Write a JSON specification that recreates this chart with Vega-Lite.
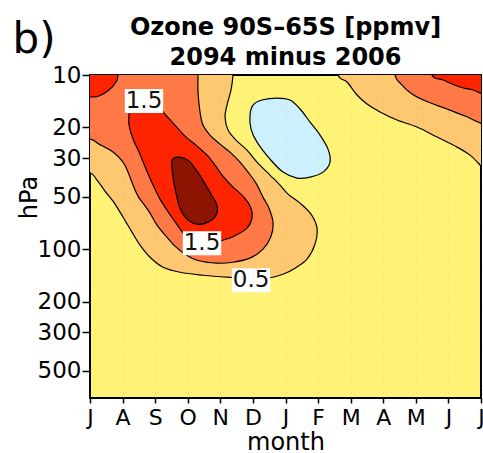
{
  "$schema": "https://vega.github.io/schema/vega-lite/v6.json",
  "width": 391,
  "height": 323,
  "autosize": {"type": "none"},
  "padding": {"left": 90, "top": 75, "right": 2, "bottom": 55},
  "background": "#ffffff",
  "config": {
    "font": "DejaVu Sans",
    "view": {"fill": "#fff377", "stroke": "#000000", "strokeWidth": 2}
  },
  "title": {
    "text": ["Ozone 90S–65S [ppmv]", "2094 minus 2006"],
    "fontSize": 24,
    "fontWeight": "bold",
    "lineHeight": 30,
    "anchor": "middle",
    "frame": "group",
    "offset": -52,
    "color": "#000000"
  },
  "datasets": {
    "contours": [
      {"shape": "left05", "level": 0.5, "k": 0, "month": -0.92, "p": 7},
      {"shape": "left05", "level": 0.5, "k": 1, "month": -0.92, "p": 32.9},
      {"shape": "left05", "level": 0.5, "k": 2, "month": -0.031, "p": 36.1},
      {"shape": "left05", "level": 0.5, "k": 3, "month": 0.215, "p": 40.13},
      {"shape": "left05", "level": 0.5, "k": 4, "month": 0.46, "p": 46.42},
      {"shape": "left05", "level": 0.5, "k": 5, "month": 0.706, "p": 52.99},
      {"shape": "left05", "level": 0.5, "k": 6, "month": 0.921, "p": 61.3},
      {"shape": "left05", "level": 0.5, "k": 7, "month": 1.105, "p": 69.96},
      {"shape": "left05", "level": 0.5, "k": 8, "month": 1.289, "p": 79.87},
      {"shape": "left05", "level": 0.5, "k": 9, "month": 1.535, "p": 94.85},
      {"shape": "left05", "level": 0.5, "k": 10, "month": 1.842, "p": 111.2},
      {"shape": "left05", "level": 0.5, "k": 11, "month": 2.241, "p": 126.9},
      {"shape": "left05", "level": 0.5, "k": 12, "month": 2.762, "p": 135.6},
      {"shape": "left05", "level": 0.5, "k": 13, "month": 3.468, "p": 141.1},
      {"shape": "left05", "level": 0.5, "k": 14, "month": 4.205, "p": 144.8},
      {"shape": "left05", "level": 0.5, "k": 15, "month": 4.911, "p": 148.8},
      {"shape": "left05", "level": 0.5, "k": 16, "month": 5.463, "p": 146.8},
      {"shape": "left05", "level": 0.5, "k": 17, "month": 5.924, "p": 139.3},
      {"shape": "left05", "level": 0.5, "k": 18, "month": 6.292, "p": 128.6},
      {"shape": "left05", "level": 0.5, "k": 19, "month": 6.661, "p": 114.1},
      {"shape": "left05", "level": 0.5, "k": 20, "month": 6.906, "p": 93.6},
      {"shape": "left05", "level": 0.5, "k": 21, "month": 6.967, "p": 75.7},
      {"shape": "left05", "level": 0.5, "k": 22, "month": 6.783, "p": 62.95},
      {"shape": "left05", "level": 0.5, "k": 23, "month": 6.446, "p": 54.41},
      {"shape": "left05", "level": 0.5, "k": 24, "month": 6.077, "p": 48.3},
      {"shape": "left05", "level": 0.5, "k": 25, "month": 5.832, "p": 42.87},
      {"shape": "left05", "level": 0.5, "k": 26, "month": 5.525, "p": 37.56},
      {"shape": "left05", "level": 0.5, "k": 27, "month": 5.126, "p": 31.62},
      {"shape": "left05", "level": 0.5, "k": 28, "month": 4.819, "p": 26.98},
      {"shape": "left05", "level": 0.5, "k": 29, "month": 4.481, "p": 23.64},
      {"shape": "left05", "level": 0.5, "k": 30, "month": 4.236, "p": 20.71},
      {"shape": "left05", "level": 0.5, "k": 31, "month": 4.144, "p": 17.43},
      {"shape": "left05", "level": 0.5, "k": 32, "month": 4.205, "p": 14.87},
      {"shape": "left05", "level": 0.5, "k": 33, "month": 4.328, "p": 12.19},
      {"shape": "left05", "level": 0.5, "k": 34, "month": 4.389, "p": 10.0},
      {"shape": "left05", "level": 0.5, "k": 35, "month": 4.43, "p": 7},

      {"shape": "right05", "level": 0.5, "k": 0, "month": 7.52, "p": 7},
      {"shape": "right05", "level": 0.5, "k": 1, "month": 7.612, "p": 10.0},
      {"shape": "right05", "level": 0.5, "k": 2, "month": 7.888, "p": 10.97},
      {"shape": "right05", "level": 0.5, "k": 3, "month": 8.195, "p": 13.03},
      {"shape": "right05", "level": 0.5, "k": 4, "month": 8.502, "p": 14.68},
      {"shape": "right05", "level": 0.5, "k": 5, "month": 8.901, "p": 16.31},
      {"shape": "right05", "level": 0.5, "k": 6, "month": 9.423, "p": 18.14},
      {"shape": "right05", "level": 0.5, "k": 7, "month": 10.037, "p": 19.9},
      {"shape": "right05", "level": 0.5, "k": 8, "month": 10.651, "p": 22.71},
      {"shape": "right05", "level": 0.5, "k": 9, "month": 11.265, "p": 25.94},
      {"shape": "right05", "level": 0.5, "k": 10, "month": 11.664, "p": 28.84},
      {"shape": "right05", "level": 0.5, "k": 11, "month": 11.971, "p": 32.9},
      {"shape": "right05", "level": 0.5, "k": 12, "month": 12.063, "p": 34.69},
      {"shape": "right05", "level": 0.5, "k": 13, "month": 12.58, "p": 39.08},
      {"shape": "right05", "level": 0.5, "k": 14, "month": 12.58, "p": 7},

      {"shape": "left10", "level": 1.0, "k": 0, "month": -0.92, "p": 7},
      {"shape": "left10", "level": 1.0, "k": 1, "month": -0.92, "p": 23.32},
      {"shape": "left10", "level": 1.0, "k": 2, "month": -0.031, "p": 23.32},
      {"shape": "left10", "level": 1.0, "k": 3, "month": 0.276, "p": 24.93},
      {"shape": "left10", "level": 1.0, "k": 4, "month": 0.706, "p": 27.71},
      {"shape": "left10", "level": 1.0, "k": 5, "month": 1.013, "p": 31.62},
      {"shape": "left10", "level": 1.0, "k": 6, "month": 1.166, "p": 36.1},
      {"shape": "left10", "level": 1.0, "k": 7, "month": 1.32, "p": 42.87},
      {"shape": "left10", "level": 1.0, "k": 8, "month": 1.473, "p": 49.6},
      {"shape": "left10", "level": 1.0, "k": 9, "month": 1.627, "p": 54.41},
      {"shape": "left10", "level": 1.0, "k": 10, "month": 1.842, "p": 62.11},
      {"shape": "left10", "level": 1.0, "k": 11, "month": 2.056, "p": 72.78},
      {"shape": "left10", "level": 1.0, "k": 12, "month": 2.333, "p": 84.19},
      {"shape": "left10", "level": 1.0, "k": 13, "month": 2.609, "p": 96.1},
      {"shape": "left10", "level": 1.0, "k": 14, "month": 2.916, "p": 106.8},
      {"shape": "left10", "level": 1.0, "k": 15, "month": 3.284, "p": 115.7},
      {"shape": "left10", "level": 1.0, "k": 16, "month": 3.898, "p": 120.3},
      {"shape": "left10", "level": 1.0, "k": 17, "month": 4.389, "p": 118.8},
      {"shape": "left10", "level": 1.0, "k": 18, "month": 4.911, "p": 112.6},
      {"shape": "left10", "level": 1.0, "k": 19, "month": 5.31, "p": 100.0},
      {"shape": "left10", "level": 1.0, "k": 20, "month": 5.556, "p": 84.19},
      {"shape": "left10", "level": 1.0, "k": 21, "month": 5.617, "p": 69.96},
      {"shape": "left10", "level": 1.0, "k": 22, "month": 5.494, "p": 58.14},
      {"shape": "left10", "level": 1.0, "k": 23, "month": 5.31, "p": 50.24},
      {"shape": "left10", "level": 1.0, "k": 24, "month": 5.095, "p": 41.75},
      {"shape": "left10", "level": 1.0, "k": 25, "month": 4.85, "p": 36.1},
      {"shape": "left10", "level": 1.0, "k": 26, "month": 4.604, "p": 31.62},
      {"shape": "left10", "level": 1.0, "k": 27, "month": 4.297, "p": 27.71},
      {"shape": "left10", "level": 1.0, "k": 28, "month": 3.99, "p": 24.93},
      {"shape": "left10", "level": 1.0, "k": 29, "month": 3.683, "p": 22.12},
      {"shape": "left10", "level": 1.0, "k": 30, "month": 3.468, "p": 19.38},
      {"shape": "left10", "level": 1.0, "k": 31, "month": 3.376, "p": 16.31},
      {"shape": "left10", "level": 1.0, "k": 32, "month": 3.315, "p": 12.52},
      {"shape": "left10", "level": 1.0, "k": 33, "month": 3.315, "p": 10.0},
      {"shape": "left10", "level": 1.0, "k": 34, "month": 3.315, "p": 7},

      {"shape": "right10", "level": 1.0, "k": 0, "month": 9.3, "p": 7},
      {"shape": "right10", "level": 1.0, "k": 1, "month": 9.362, "p": 10.0},
      {"shape": "right10", "level": 1.0, "k": 2, "month": 9.546, "p": 11.27},
      {"shape": "right10", "level": 1.0, "k": 3, "month": 9.883, "p": 12.86},
      {"shape": "right10", "level": 1.0, "k": 4, "month": 10.374, "p": 14.3},
      {"shape": "right10", "level": 1.0, "k": 5, "month": 10.958, "p": 15.68},
      {"shape": "right10", "level": 1.0, "k": 6, "month": 11.51, "p": 17.2},
      {"shape": "right10", "level": 1.0, "k": 7, "month": 12.063, "p": 19.12},
      {"shape": "right10", "level": 1.0, "k": 8, "month": 12.58, "p": 20.17},
      {"shape": "right10", "level": 1.0, "k": 9, "month": 12.58, "p": 7},

      {"shape": "topleft15", "level": 1.5, "k": 0, "month": -0.92, "p": 7},
      {"shape": "topleft15", "level": 1.5, "k": 1, "month": -0.92, "p": 13.56},
      {"shape": "topleft15", "level": 1.5, "k": 2, "month": -0.031, "p": 13.38},
      {"shape": "topleft15", "level": 1.5, "k": 3, "month": 0.276, "p": 13.2},
      {"shape": "topleft15", "level": 1.5, "k": 4, "month": 0.583, "p": 12.19},
      {"shape": "topleft15", "level": 1.5, "k": 5, "month": 0.798, "p": 10.97},
      {"shape": "topleft15", "level": 1.5, "k": 6, "month": 0.859, "p": 10.0},
      {"shape": "topleft15", "level": 1.5, "k": 7, "month": 0.89, "p": 7},

      {"shape": "topright15", "level": 1.5, "k": 0, "month": 10.436, "p": 7},
      {"shape": "topright15", "level": 1.5, "k": 1, "month": 10.497, "p": 10.0},
      {"shape": "topright15", "level": 1.5, "k": 2, "month": 10.835, "p": 10.68},
      {"shape": "topright15", "level": 1.5, "k": 3, "month": 11.357, "p": 11.72},
      {"shape": "topright15", "level": 1.5, "k": 4, "month": 11.756, "p": 12.19},
      {"shape": "topright15", "level": 1.5, "k": 5, "month": 12.063, "p": 12.86},
      {"shape": "topright15", "level": 1.5, "k": 6, "month": 12.58, "p": 13.2},
      {"shape": "topright15", "level": 1.5, "k": 7, "month": 12.58, "p": 7},

      {"shape": "core15", "level": 1.5, "k": 0, "month": 1.197, "p": 16.98},
      {"shape": "core15", "level": 1.5, "k": 1, "month": 1.258, "p": 15.47},
      {"shape": "core15", "level": 1.5, "k": 2, "month": 1.719, "p": 14.68},
      {"shape": "core15", "level": 1.5, "k": 3, "month": 2.149, "p": 15.47},
      {"shape": "core15", "level": 1.5, "k": 4, "month": 2.271, "p": 16.53},
      {"shape": "core15", "level": 1.5, "k": 5, "month": 2.578, "p": 19.12},
      {"shape": "core15", "level": 1.5, "k": 6, "month": 2.916, "p": 22.42},
      {"shape": "core15", "level": 1.5, "k": 7, "month": 3.284, "p": 25.59},
      {"shape": "core15", "level": 1.5, "k": 8, "month": 3.591, "p": 28.84},
      {"shape": "core15", "level": 1.5, "k": 9, "month": 3.837, "p": 32.9},
      {"shape": "core15", "level": 1.5, "k": 10, "month": 4.052, "p": 37.56},
      {"shape": "core15", "level": 1.5, "k": 11, "month": 4.359, "p": 43.45},
      {"shape": "core15", "level": 1.5, "k": 12, "month": 4.727, "p": 50.24},
      {"shape": "core15", "level": 1.5, "k": 13, "month": 4.942, "p": 58.14},
      {"shape": "core15", "level": 1.5, "k": 14, "month": 4.972, "p": 66.35},
      {"shape": "core15", "level": 1.5, "k": 15, "month": 4.819, "p": 75.7},
      {"shape": "core15", "level": 1.5, "k": 16, "month": 4.42, "p": 84.19},
      {"shape": "core15", "level": 1.5, "k": 17, "month": 3.99, "p": 89.95},
      {"shape": "core15", "level": 1.5, "k": 18, "month": 3.53, "p": 96.1},
      {"shape": "core15", "level": 1.5, "k": 19, "month": 3.069, "p": 91.16},
      {"shape": "core15", "level": 1.5, "k": 20, "month": 2.855, "p": 80.91},
      {"shape": "core15", "level": 1.5, "k": 21, "month": 2.64, "p": 70.9},
      {"shape": "core15", "level": 1.5, "k": 22, "month": 2.363, "p": 59.7},
      {"shape": "core15", "level": 1.5, "k": 23, "month": 2.149, "p": 51.6},
      {"shape": "core15", "level": 1.5, "k": 24, "month": 1.934, "p": 42.87},
      {"shape": "core15", "level": 1.5, "k": 25, "month": 1.719, "p": 34.69},
      {"shape": "core15", "level": 1.5, "k": 26, "month": 1.504, "p": 27.71},
      {"shape": "core15", "level": 1.5, "k": 27, "month": 1.32, "p": 23.32},
      {"shape": "core15", "level": 1.5, "k": 28, "month": 1.197, "p": 19.38},

      {"shape": "core20", "level": 2.0, "k": 0, "month": 2.517, "p": 30.8},
      {"shape": "core20", "level": 2.0, "k": 1, "month": 2.762, "p": 29.6},
      {"shape": "core20", "level": 2.0, "k": 2, "month": 3.039, "p": 31.21},
      {"shape": "core20", "level": 2.0, "k": 3, "month": 3.284, "p": 35.63},
      {"shape": "core20", "level": 2.0, "k": 4, "month": 3.499, "p": 41.2},
      {"shape": "core20", "level": 2.0, "k": 5, "month": 3.714, "p": 48.3},
      {"shape": "core20", "level": 2.0, "k": 6, "month": 3.898, "p": 55.86},
      {"shape": "core20", "level": 2.0, "k": 7, "month": 3.867, "p": 63.78},
      {"shape": "core20", "level": 2.0, "k": 8, "month": 3.622, "p": 69.96},
      {"shape": "core20", "level": 2.0, "k": 9, "month": 3.284, "p": 71.83},
      {"shape": "core20", "level": 2.0, "k": 10, "month": 2.977, "p": 67.22},
      {"shape": "core20", "level": 2.0, "k": 11, "month": 2.762, "p": 58.14},
      {"shape": "core20", "level": 2.0, "k": 12, "month": 2.64, "p": 47.66},
      {"shape": "core20", "level": 2.0, "k": 13, "month": 2.548, "p": 38.57},

      {"shape": "neg05", "level": -0.5, "k": 0, "month": 4.911, "p": 16.98},
      {"shape": "neg05", "level": -0.5, "k": 1, "month": 5.003, "p": 14.87},
      {"shape": "neg05", "level": -0.5, "k": 2, "month": 5.279, "p": 13.92},
      {"shape": "neg05", "level": -0.5, "k": 3, "month": 5.74, "p": 13.56},
      {"shape": "neg05", "level": -0.5, "k": 4, "month": 6.139, "p": 13.92},
      {"shape": "neg05", "level": -0.5, "k": 5, "month": 6.446, "p": 15.68},
      {"shape": "neg05", "level": -0.5, "k": 6, "month": 6.753, "p": 18.63},
      {"shape": "neg05", "level": -0.5, "k": 7, "month": 7.06, "p": 22.12},
      {"shape": "neg05", "level": -0.5, "k": 8, "month": 7.305, "p": 26.63},
      {"shape": "neg05", "level": -0.5, "k": 9, "month": 7.366, "p": 31.62},
      {"shape": "neg05", "level": -0.5, "k": 10, "month": 7.152, "p": 36.1},
      {"shape": "neg05", "level": -0.5, "k": 11, "month": 6.753, "p": 38.57},
      {"shape": "neg05", "level": -0.5, "k": 12, "month": 6.354, "p": 39.08},
      {"shape": "neg05", "level": -0.5, "k": 13, "month": 5.924, "p": 36.1},
      {"shape": "neg05", "level": -0.5, "k": 14, "month": 5.525, "p": 30.4},
      {"shape": "neg05", "level": -0.5, "k": 15, "month": 5.126, "p": 24.27},
      {"shape": "neg05", "level": -0.5, "k": 16, "month": 4.942, "p": 20.43}
    ],
    "labels": [
      {"month": 1.657, "p": 14.11, "level": "1.5"},
      {"month": 3.438, "p": 92.37, "level": "1.5"},
      {"month": 4.942, "p": 150.8, "level": "0.5"}
    ]
  },
  "encoding": {
    "y": {
      "field": "p", "type": "quantitative",
      "scale": {"type": "log", "domain": [10, 715], "reverse": true, "nice": false},
      "axis": {
        "values": [10, 20, 30, 50, 100, 200, 300, 500],
        "format": "d",
        "labelFontSize": 23, "labelColor": "#000000", "labelPadding": 1,
        "labelOverlap": false, "labelFlush": false,
        "tickSize": 8, "tickWidth": 1.5, "tickColor": "#000000",
        "domain": false, "grid": false,
        "title": "hPa", "titleFontSize": 24, "titleFontWeight": "normal",
        "titleColor": "#000000", "titleX": -61, "titleY": 122,
        "titleBaseline": "middle", "titleAlign": "center"
      }
    }
  },
  "layer": [
    {
      "data": {"name": "contours"},
      "transform": [{"filter": "datum.level == 0.5"}],
      "mark": {"type": "line", "interpolate": "cardinal-closed", "fill": "#fdc86f", "stroke": "#000000", "strokeWidth": 1.2, "clip": true},
      "encoding": {
        "x": {
          "field": "month", "type": "quantitative",
          "scale": {"domain": [0, 12], "nice": false, "zero": false},
          "axis": {
            "orient": "bottom",
            "zindex": 1,
            "values": [0, 1, 2, 3, 4, 5, 6, 7, 8, 9, 10, 11, 12],
            "labelExpr": "['J','A','S','O','N','D','J','F','M','A','M','J','J'][datum.value]",
            "labelFontSize": 22, "labelColor": "#000000", "labelPadding": 4, "labelDx": -2,
            "labelFlush": false, "labelOverlap": false,
            "tickSize": 5, "tickWidth": 1.5, "tickColor": "#000000",
            "domain": false,
            "grid": true, "gridColor": "#8a8468", "gridOpacity": 0.25, "gridDash": [1, 4], "gridWidth": 1,
            "title": "month", "titleFontSize": 24, "titleFontWeight": "normal",
            "titleColor": "#000000", "titleBaseline": "alphabetic", "titleY": 51
          }
        },
        "detail": {"field": "shape"},
        "order": {"field": "k", "type": "quantitative"}
      }
    },
    {
      "data": {"name": "contours"},
      "transform": [{"filter": "datum.level == 1"}],
      "mark": {"type": "line", "interpolate": "cardinal-closed", "fill": "#ff7946", "stroke": "#000000", "strokeWidth": 1.2, "clip": true},
      "encoding": {
        "x": {"field": "month", "type": "quantitative", "axis": null},
        "detail": {"field": "shape"},
        "order": {"field": "k", "type": "quantitative"}
      }
    },
    {
      "data": {"name": "contours"},
      "transform": [{"filter": "datum.level == 1.5"}],
      "mark": {"type": "line", "interpolate": "cardinal-closed", "fill": "#ff2400", "stroke": "#000000", "strokeWidth": 1.2, "clip": true},
      "encoding": {
        "x": {"field": "month", "type": "quantitative", "axis": null},
        "detail": {"field": "shape"},
        "order": {"field": "k", "type": "quantitative"}
      }
    },
    {
      "data": {"name": "contours"},
      "transform": [{"filter": "datum.level == 2"}],
      "mark": {"type": "line", "interpolate": "cardinal-closed", "fill": "#8c1400", "stroke": "#000000", "strokeWidth": 1.2, "clip": true},
      "encoding": {
        "x": {"field": "month", "type": "quantitative", "axis": null},
        "detail": {"field": "shape"},
        "order": {"field": "k", "type": "quantitative"}
      }
    },
    {
      "data": {"name": "contours"},
      "transform": [{"filter": "datum.level == -0.5"}],
      "mark": {"type": "line", "interpolate": "cardinal-closed", "fill": "#cdf0ff", "stroke": "#000000", "strokeWidth": 1.2, "clip": true},
      "encoding": {
        "x": {"field": "month", "type": "quantitative", "axis": null},
        "detail": {"field": "shape"},
        "order": {"field": "k", "type": "quantitative"}
      }
    },
    {
      "data": {"name": "labels"},
      "mark": {"type": "point", "shape": "M-1.6,-1H1.6V1H-1.6Z", "size": 576, "filled": true, "fill": "#ffffff", "strokeWidth": 0, "opacity": 1},
      "encoding": {
        "x": {"field": "month", "type": "quantitative", "axis": null}
      }
    },
    {
      "data": {"name": "labels"},
      "mark": {"type": "text", "fontSize": 23, "color": "#111111", "align": "center", "baseline": "middle"},
      "encoding": {
        "x": {
          "field": "month", "type": "quantitative",
          "axis": {
            "orient": "top", "labels": false, "ticks": false, "domain": false, "grid": false,
            "title": "b)", "titleFontSize": 42, "titleFontWeight": "normal", "titleColor": "#000000",
            "titleAngle": 0, "titleAlign": "left", "titleBaseline": "alphabetic",
            "titleX": -78, "titleY": -23
          }
        },
        "text": {"field": "level"}
      }
    }
  ],
  "resolve": {"axis": {"x": "independent"}}
}
